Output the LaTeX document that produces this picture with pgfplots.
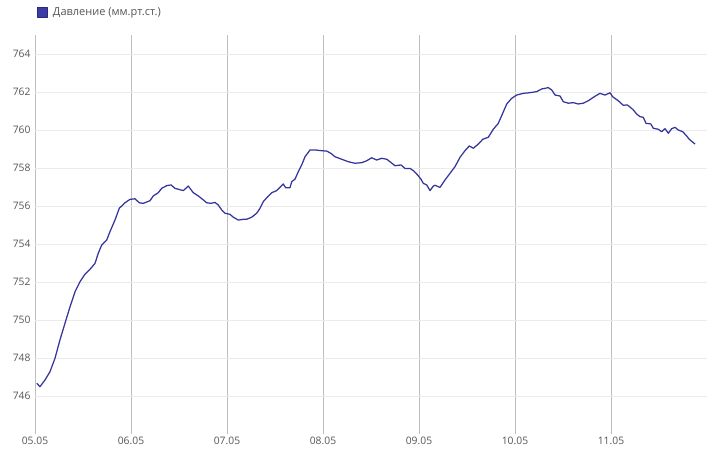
\documentclass[border=0pt]{standalone}
\usepackage{pgfplots}
\pgfplotsset{compat=1.18}
\usepackage{fontspec}
\setmainfont{Open Sans}
\definecolor{lineblue}{RGB}{52,52,155}
\definecolor{legfill}{RGB}{60,60,165}
\definecolor{vgrid}{RGB}{190,190,190}
\definecolor{hgrid}{RGB}{235,235,235}
\definecolor{txt}{RGB}{85,85,85}
\begin{document}
\begin{tikzpicture}[x=1pt,y=1pt]
\useasboundingbox (-35pt,-17pt) rectangle (672pt,434pt);
\begin{axis}[
  at={(0pt,0pt)}, anchor=south west,
  scale only axis,
  width=672pt, height=399pt,
  xmin=0, xmax=7, ymin=744, ymax=765,
  xtick={0,1,2,3,4,5,6},
  xticklabels={05.05,06.05,07.05,08.05,09.05,10.05,11.05},
  ytick={746,748,...,764},
  major tick length=0pt,
  axis line style={draw=none},
  xmajorgrids, ymajorgrids,
  x grid style={vgrid, line width=0.9pt},
  y grid style={hgrid, line width=0.9pt},
  /pgf/number format/assume math mode=true,
  /pgf/number format/1000 sep={},
  tick label style={font=\fontsize{10.3}{12}\selectfont, text=txt},
  xticklabel style={yshift=1pt},
  yticklabel style={xshift=-1pt},
  legend style={at={(0,1)}, anchor=south west, draw=none, fill=none,
    xshift=1.5pt, yshift=16pt, inner sep=0pt,
    font=\fontsize{11}{13}\selectfont, text=txt},
  legend cell align=left,
  legend image code/.code={\draw[draw=lineblue!80!black, fill=legfill, line width=0.6pt] (0pt,-5pt) rectangle (10pt,5pt); \path[draw=none,fill=none] (14pt,0pt);},
]
\addplot[lineblue, line width=1.25pt, line join=round] coordinates {
(0.018,746.67) (0.052,746.49) (0.104,746.84) (0.156,747.28) (0.208,747.98)
(0.260,748.95) (0.3125,749.83) (0.365,750.70) (0.417,751.49) (0.469,752.02)
(0.521,752.41) (0.573,752.67) (0.625,752.98) (0.659,753.51) (0.695,753.95)
(0.747,754.21) (0.781,754.65) (0.833,755.26) (0.878,755.88) (0.9375,756.17)
(0.990,756.35) (1.042,756.38) (1.086,756.17) (1.128,756.14) (1.198,756.28)
(1.232,756.53) (1.284,756.70) (1.320,756.93) (1.372,757.07) (1.417,757.11)
(1.458,756.93) (1.545,756.81) (1.597,757.05) (1.649,756.70) (1.701,756.53)
(1.753,756.32) (1.789,756.17) (1.833,756.14) (1.875,756.19) (1.909,756.05)
(1.945,755.79) (1.979,755.62) (2.031,755.56) (2.066,755.41) (2.118,755.26)
(2.170,755.30) (2.205,755.30) (2.257,755.41) (2.309,755.62) (2.344,755.88)
(2.378,756.23) (2.424,756.49) (2.466,756.70) (2.518,756.81) (2.552,756.98)
(2.586,757.16) (2.611,756.96) (2.656,756.96) (2.674,757.28) (2.708,757.41)
(2.743,757.81) (2.778,758.16) (2.8125,758.59) (2.865,758.95) (2.917,758.95)
(2.986,758.91) (3.039,758.89) (3.083,758.77) (3.125,758.59) (3.143,758.56)
(3.195,758.46) (3.264,758.33) (3.333,758.25) (3.403,758.28) (3.455,758.38)
(3.507,758.54) (3.559,758.42) (3.611,758.51) (3.664,758.46) (3.698,758.33)
(3.750,758.12) (3.8125,758.16) (3.854,757.98) (3.906,757.98) (3.941,757.86)
(3.986,757.63) (4.021,757.41) (4.045,757.19) (4.080,757.11) (4.115,756.81)
(4.149,757.05) (4.167,757.09) (4.219,756.98) (4.271,757.37) (4.323,757.72)
(4.375,758.07) (4.427,758.56) (4.479,758.91) (4.524,759.16) (4.566,759.04)
(4.618,759.26) (4.664,759.51) (4.722,759.62) (4.774,760.04) (4.826,760.35)
(4.872,760.88) (4.914,761.37) (4.966,761.67) (5.018,761.84) (5.086,761.93)
(5.149,761.96) (5.226,762.02) (5.278,762.16) (5.347,762.23) (5.382,762.11)
(5.417,761.84) (5.469,761.79) (5.503,761.49) (5.555,761.41) (5.607,761.44)
(5.659,761.37) (5.711,761.41) (5.764,761.54) (5.816,761.72) (5.885,761.93)
(5.9375,761.84) (5.990,761.96) (6.018,761.75) (6.076,761.54) (6.128,761.30)
(6.170,761.32) (6.226,761.09) (6.268,760.84) (6.302,760.70) (6.336,760.67)
(6.365,760.35) (6.414,760.32) (6.441,760.09) (6.493,760.04) (6.528,759.91)
(6.5625,760.07) (6.597,759.83) (6.632,760.07) (6.667,760.14) (6.701,760.00)
(6.747,759.91) (6.789,759.68) (6.816,759.51) (6.875,759.26)
};
\addlegendentry{Давление (мм.рт.ст.)}
\end{axis}
\end{tikzpicture}
\end{document}
